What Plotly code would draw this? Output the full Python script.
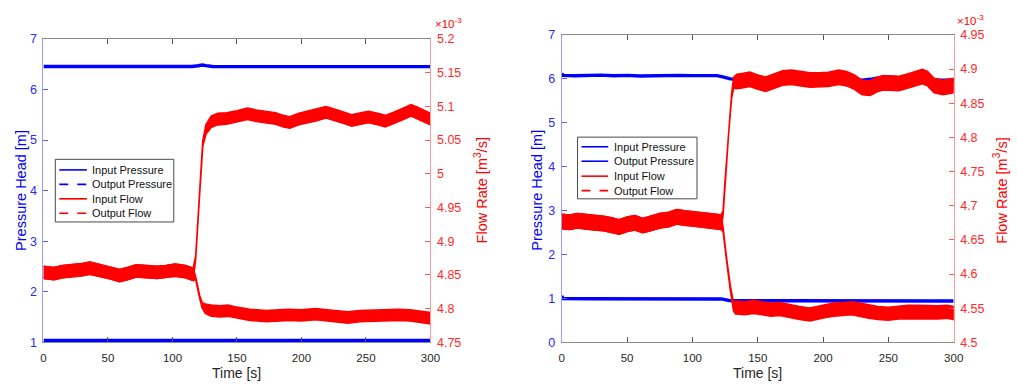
import plotly.graph_objects as go

# ---------------- Left panel ----------------
# Pressure head [m]
L_t_pin = [0, 30, 60, 90, 115, 120, 123, 126, 131, 160, 200, 240, 270, 300]
L_pin = [6.452, 6.450, 6.452, 6.451, 6.452, 6.468, 6.483, 6.470, 6.453, 6.451, 6.450, 6.452, 6.451, 6.450]
L_t_pout = [0, 50, 100, 150, 200, 250, 300]
L_pout = [1.040, 1.041, 1.040, 1.040, 1.041, 1.040, 1.040]

# Flow rate [x1e-3 m^3/s]: band centre and band half-thickness
L_t_fin = [0, 8, 15, 22, 30, 36, 44, 52, 59, 65, 72, 80, 88, 95, 102, 110, 116,
           118, 121, 123.5, 126,
           130, 135, 142, 150, 158, 165, 172, 180, 186, 191, 198, 205, 212, 219, 226,
           233, 239, 246, 252, 259, 265, 272, 279, 285, 290, 295, 300]
L_fin = [4.854, 4.852, 4.855, 4.856, 4.858, 4.860, 4.856, 4.853, 4.849, 4.852, 4.856, 4.855,
         4.854, 4.855, 4.857, 4.855, 4.851,
         4.876, 4.970, 5.045, 5.066,
         5.077, 5.081, 5.082, 5.085, 5.089, 5.086, 5.084, 5.082, 5.078, 5.076, 5.081, 5.084,
         5.087, 5.091, 5.087, 5.083, 5.079, 5.082, 5.084, 5.081, 5.078, 5.083, 5.089, 5.094,
         5.090, 5.085, 5.081]
L_fin_hw = [0.009] * 17 + [0.002, 0.002, 0.004, 0.007] + [0.0085] * 27

L_t_fout = [0, 8, 15, 22, 30, 36, 44, 52, 59, 65, 72, 80, 88, 95, 102, 110, 116,
            118, 119.5, 121, 123, 125.5,
            130, 137, 143, 150, 160, 173, 182, 190, 200, 211, 220, 228, 236, 245, 255,
            265, 275, 284, 292, 300]
L_fout = [4.854, 4.852, 4.855, 4.856, 4.858, 4.860, 4.856, 4.853, 4.849, 4.852, 4.856, 4.855,
          4.854, 4.855, 4.857, 4.855, 4.851,
          4.845, 4.830, 4.818, 4.805, 4.800,
          4.797, 4.796, 4.797, 4.794, 4.791, 4.789, 4.790, 4.791, 4.790, 4.792, 4.790, 4.789,
          4.787, 4.789, 4.790, 4.790, 4.791, 4.790, 4.788, 4.786]
L_fout_hw = [0.009] * 17 + [0.002, 0.002, 0.002, 0.004, 0.007] + [0.0083] * 20

# ---------------- Right panel ----------------
R_t_pin = [0, 1, 10, 20, 30, 40, 50, 60, 70, 80, 90, 100, 110, 119, 124, 129, 135, 150, 170,
           190, 210, 220, 230, 238, 245, 255, 265, 275, 285, 292, 300]
R_pin = [6.12, 6.08, 6.07, 6.08, 6.085, 6.07, 6.08, 6.065, 6.075, 6.07, 6.08, 6.075, 6.08,
         6.075, 6.04, 6.0, 5.99, 5.99, 6.0, 5.99, 6.0, 5.98, 5.97, 6.0, 6.04, 6.03, 6.01,
         6.01, 5.975, 5.97, 5.975]
R_t_pout = [0, 1, 20, 50, 80, 100, 118, 122, 128, 135, 170, 200, 230, 260, 300]
R_pout = [1.06, 1.0, 0.995, 0.995, 0.997, 1.0, 1.0, 0.99, 0.955, 0.95, 0.95, 0.945, 0.95,
          0.95, 0.945]

R_t_fin = [0, 6, 12, 18, 25, 32, 38, 44, 50, 56, 62, 68, 75, 82, 88, 94, 100, 106, 112, 118, 122,
           123.5, 125, 127.7, 130, 131.5,
           134, 138, 144, 150, 156, 162, 169, 176, 183, 190, 197, 204, 212, 218, 224, 230,
           236, 241, 246, 252, 258, 264, 270, 276, 280, 285, 292, 300]
R_fin = [4.677, 4.676, 4.678, 4.677, 4.675, 4.674, 4.672, 4.669, 4.673, 4.675, 4.671, 4.674,
         4.678, 4.680, 4.684, 4.682, 4.681, 4.680, 4.679, 4.677, 4.676,
         4.690, 4.735, 4.807, 4.860, 4.880,
         4.882, 4.883, 4.885, 4.881, 4.878, 4.882, 4.887, 4.888, 4.886, 4.884, 4.884, 4.885,
         4.888, 4.886, 4.881, 4.873, 4.872, 4.877, 4.880, 4.880, 4.879, 4.882, 4.885, 4.889,
         4.886, 4.876, 4.873, 4.876]
R_fin_hw = [0.0105] * 21 + [0.003, 0.002, 0.002, 0.003, 0.008] + [0.0105] * 28

R_t_fout = [0, 6, 12, 18, 25, 32, 38, 44, 50, 56, 62, 68, 75, 82, 88, 94, 100, 106, 112, 118, 122,
            123.5, 126, 129, 131.5,
            133, 140, 147, 153, 160, 167, 174, 182, 190, 196, 202, 208, 215, 222, 228, 235,
            242, 250, 258, 265, 272, 280, 288, 295, 300]
R_fout = [4.677, 4.676, 4.678, 4.677, 4.675, 4.674, 4.672, 4.669, 4.673, 4.675, 4.671, 4.674,
          4.678, 4.680, 4.684, 4.682, 4.681, 4.680, 4.679, 4.677, 4.676,
          4.665, 4.624, 4.580, 4.552,
          4.551, 4.550, 4.552, 4.550, 4.548, 4.549, 4.546, 4.543, 4.541, 4.543, 4.546, 4.548,
          4.549, 4.550, 4.548, 4.545, 4.543, 4.542, 4.544, 4.545, 4.545, 4.544, 4.544, 4.545,
          4.543]
R_fout_hw = [0.0105] * 21 + [0.003, 0.002, 0.003, 0.006] + [0.0095] * 25

# Axis ticks
time_ticks = [0, 50, 100, 150, 200, 250, 300]
L_flow_ticks = [4.75, 4.8, 4.85, 4.9, 4.95, 5.0, 5.05, 5.1, 5.15, 5.2]
L_flow_text = ["4.75", "4.8", "4.85", "4.9", "4.95", "5", "5.05", "5.1", "5.15", "5.2"]
R_flow_ticks = [4.5, 4.55, 4.6, 4.65, 4.7, 4.75, 4.8, 4.85, 4.9, 4.95]
R_flow_text = ["4.5", "4.55", "4.6", "4.65", "4.7", "4.75", "4.8", "4.85", "4.9", "4.95"]

# Legend entries (label, colour, dash)
L_legend = [("Input Pressure", "#0000ff", "solid"), ("Output Pressure", "#0000ff", "dash"),
            ("Input Flow", "#ff0000", "solid"), ("Output Flow", "#ff0000", "dash")]
R_legend = [("Input Pressure", "#0000ff", "solid"), ("Output Pressure", "#0000ff", "solid"),
            ("Input Flow", "#ff0000", "solid"), ("Output Flow", "#ff0000", "dash")]

BLUE = "#0000ff"
RED = "#ff0000"
FONT = "Liberation Sans, Arial, sans-serif"
W, H = 1017, 388

fig = go.Figure()


def band(t, c, hw, xa, ya, name):
    hi = [ci + h for ci, h in zip(c, hw)]
    lo = [ci - h for ci, h in zip(c, hw)]
    fig.add_trace(go.Scatter(x=list(t) + list(t)[::-1], y=hi + lo[::-1], mode="lines",
                             fill="toself", fillcolor=RED, line=dict(color=RED, width=1.6),
                             xaxis=xa, yaxis=ya, showlegend=False, name=name,
                             hoverinfo="skip"))


def pline(t, v, xa, ya, name):
    fig.add_trace(go.Scatter(x=t, y=v, mode="lines", line=dict(color=BLUE, width=3.4),
                             xaxis=xa, yaxis=ya, showlegend=False, name=name))


# Left panel traces
pline(L_t_pin, L_pin, "x", "y", "Input Pressure")
pline(L_t_pout, L_pout, "x", "y", "Output Pressure")
band(L_t_fin, L_fin, L_fin_hw, "x", "y2", "Input Flow")
band(L_t_fout, L_fout, L_fout_hw, "x", "y2", "Output Flow")

# Right panel traces
pline(R_t_pin, R_pin, "x2", "y3", "Input Pressure")
pline(R_t_pout, R_pout, "x2", "y3", "Output Pressure")
band(R_t_fin, R_fin, R_fin_hw, "x2", "y4", "Input Flow")
band(R_t_fout, R_fout, R_fout_hw, "x2", "y4", "Output Flow")

LX0, LX1, RX0, RX1 = 41 / W, 433 / W, 566 / W, 963 / W
YB = (H - 348) / H
LYT = (H - 33) / H
RYT = (H - 29) / H

xcommon = dict(range=[0, 300], tickvals=time_ticks, ticks="inside", ticklen=5,
               tickcolor="#555", showline=True, linecolor="#8a8a8a", linewidth=1,
               mirror="ticks", showgrid=False, zeroline=False, ticklabelstandoff=5,
               tickfont=dict(size=11.5, color="#262626", family=FONT))
ycommon_left = dict(ticks="inside", ticklen=5, tickcolor="#5a5aff", showline=True,
                    linecolor="#9a9aff", linewidth=1, showgrid=False, zeroline=False,
                    tickfont=dict(size=12.5, color="#2a2aff", family=FONT), ticklabelstandoff=3)
ycommon_right = dict(ticks="inside", ticklen=5, tickcolor="#ff5a5a", showline=True,
                     linecolor="#ff9a9a", linewidth=1, showgrid=False, zeroline=False,
                     tickfont=dict(size=12.5, color="#ff2a2a", family=FONT), ticklabelstandoff=3,
                     side="right")

fig.update_layout(
    width=W, height=H, margin=dict(l=0, r=0, t=0, b=0),
    paper_bgcolor="white", plot_bgcolor="white",
    font=dict(family=FONT), showlegend=False,
    xaxis=dict(domain=[LX0, LX1], anchor="y", **xcommon),
    yaxis=dict(domain=[YB, LYT], range=[1, 7], tickvals=[1, 2, 3, 4, 5, 6, 7], anchor="x",
               **ycommon_left),
    yaxis2=dict(range=[4.75, 5.2], tickvals=L_flow_ticks, ticktext=L_flow_text,
                overlaying="y", anchor="x", **ycommon_right),
    xaxis2=dict(domain=[RX0, RX1], anchor="y3", **xcommon),
    yaxis3=dict(domain=[YB, RYT], range=[0, 7], tickvals=[0, 1, 2, 3, 4, 5, 6, 7], anchor="x2",
                **ycommon_left),
    yaxis4=dict(range=[4.5, 4.95], tickvals=R_flow_ticks, ticktext=R_flow_text,
                overlaying="y3", anchor="x2", **ycommon_right),
)

ann = []
shapes = []
for xc, txt, col in [
    (17.5 / W, "Pressure Head [m]", BLUE),
    (484 / W, "Flow Rate [m<sup>3</sup>/s]", RED),
    (541 / W, "Pressure Head [m]", BLUE),
    (1010 / W, "Flow Rate [m<sup>3</sup>/s]", RED),
]:
    ann.append(dict(x=xc, y=(YB + LYT) / 2, xref="paper", yref="paper", text=txt,
                    showarrow=False, textangle=-90, font=dict(size=14.5, color=col, family=FONT),
                    xanchor="center", yanchor="middle"))
for xc in [(LX0 + LX1) / 2, (RX0 + RX1) / 2]:
    ann.append(dict(x=xc, y=0, xref="paper", yref="paper", text="Time [s]",
                    showarrow=False, font=dict(size=14, color="#262626", family=FONT),
                    xanchor="center", yanchor="bottom", yshift=-2))
for xl, yc in [(436, 17), (964, 14)]:
    ann.append(dict(x=xl / W, y=1 - yc / H, xref="paper", yref="paper",
                    text="×10<sup>-3</sup>", showarrow=False,
                    font=dict(size=11.5, color=RED, family=FONT),
                    xanchor="left", yanchor="middle"))

# Legend boxes (drawn as shapes + text so entry spacing matches the original)
for entries, (bx0, by0, bx1, by1), (lx0, lx1, tx), ys in [
    (L_legend, (53, 158, 173, 223), (57, 85, 88), [169, 184, 199, 214]),
    (R_legend, (582, 135, 703, 199), (586, 613, 617), [145, 160, 175.5, 190.5]),
]:
    shapes.append(dict(type="rect", xref="paper", yref="paper", x0=bx0 / W, x1=bx1 / W,
                       y0=1 - by0 / H, y1=1 - by1 / H, line=dict(color="#4a4a4a", width=1),
                       fillcolor="white", layer="above"))
    for (label, col, dash), yy in zip(entries, ys):
        shapes.append(dict(type="line", xref="paper", yref="paper", x0=lx0 / W, x1=lx1 / W,
                           y0=1 - yy / H, y1=1 - yy / H,
                           line=dict(color=col, width=1.6, dash=dash), layer="above"))
        ann.append(dict(x=tx / W, y=1 - yy / H, xref="paper", yref="paper", text=label,
                        showarrow=False, font=dict(size=11, color="#111", family=FONT),
                        xanchor="left", yanchor="middle"))

fig.update_layout(annotations=ann, shapes=shapes)

fig.write_html("out.html")
